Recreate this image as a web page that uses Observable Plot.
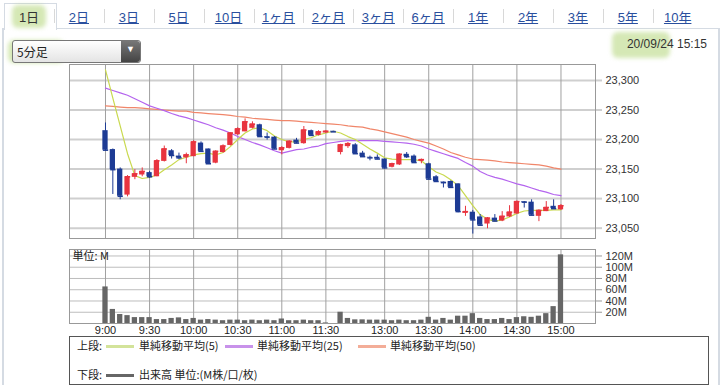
<!DOCTYPE html>
<html><head><meta charset="utf-8">
<script src="https://cdn.jsdelivr.net/npm/d3@7"></script>
<script src="https://cdn.jsdelivr.net/npm/@observablehq/plot@0.6"></script>
<style>
body{margin:0;background:#fff;}
#page{position:relative;width:727px;height:385px;overflow:hidden;font-family:"Liberation Sans","Noto Sans CJK JP",sans-serif;color:#333;}
.abs{position:absolute;}
.tab{position:absolute;top:7px;font-size:13px;color:#2a4f9e;text-decoration:underline;font-family:"Liberation Sans","Noto Sans CJK JP",sans-serif;transform:translateX(-50%);white-space:nowrap;}
.sep{position:absolute;top:9px;width:1px;height:14px;background:#d8d8d8;}
.hl{position:absolute;background:rgba(178,214,120,0.55);border-radius:6px;filter:blur(2px);}
.leg{position:absolute;font-size:11px;white-space:nowrap;font-family:"Noto Sans CJK JP",sans-serif;color:#222;}
.sw{position:absolute;height:3px;}
</style></head>
<body><div id="page">
<div class="abs" style="left:2px;top:28px;width:714px;height:360px;border-left:2px solid #d5dbe3;border-right:2px solid #d5dbe3;"></div>
<div class="abs" style="left:55px;top:28px;width:663px;height:0;border-top:1px solid #d5dbe3;"></div>
<div class="abs" style="left:4px;top:3px;width:51px;height:26px;border:1px solid #d5dbe3;border-bottom:none;background:#fff;"></div>
<div class="hl" style="left:12px;top:5px;width:34px;height:23px;"></div>
<div class="hl" style="left:8px;top:40px;width:56px;height:23px;"></div>
<div class="hl" style="left:612px;top:32px;width:58px;height:26px;"></div>
<div id="tabs"></div>
<div class="abs" style="left:12px;top:40px;width:127px;height:21px;border:1px solid #777;border-radius:3px;background:linear-gradient(#ffffff,#e4e4e4);"></div>
<div class="abs" style="left:121px;top:41px;width:19px;height:21px;border-radius:0 3px 3px 0;background:linear-gradient(#777,#444);"></div>
<div class="abs" style="left:126px;top:44px;font-size:9px;color:#fff;">▼</div>
<div class="abs" style="left:17px;top:43px;font-size:12px;font-family:'Noto Sans CJK JP',sans-serif;color:#222;">5分足</div>
<div class="abs" style="right:20px;top:37px;font-size:12px;color:#333;">20/09/24 15:15</div>
<div id="price" class="abs" style="left:0;top:0;"></div>
<div id="vol" class="abs" style="left:0;top:240px;"></div>
<div class="abs" style="left:69px;top:336px;width:638px;height:47px;border:1px solid #555;"></div>
<div id="legend"></div>
</div>
<script>
// ---- data ----
const tabLabels = ["1日","2日","3日","5日","10日","1ヶ月","2ヶ月","3ヶ月","6ヶ月","1年","2年","3年","5年","10年"];
const slots = d3.range(0, 63); // 5-minute slots, 9:00 = 0, 12:30 = 32, 15:00 = 62
const openP  = [23215,23183,23150,23106,23136,23140,23144,23137,23163,23181,23172,23169,23171,23194,23184,23160,23178,23190,23208,23213,23219,23225,23205,23204,23181,23185,23199,23193,23215,23207,23211,23214,23178,23188,23191,23177,23170,23170,23167,23153,23157,23175,23172,23163,23159,23137,23128,23129,23125,23075,23077,23069,23057,23067,23062,23069,23074,23095,23094,23070,23078,23087,23081];
const highP  = [23228,23184,23152,23139,23149,23152,23146,23166,23189,23183,23177,23177,23198,23196,23184,23181,23191,23211,23220,23235,23230,23226,23211,23205,23188,23198,23202,23222,23216,23215,23215,23214,23192,23195,23193,23180,23172,23174,23167,23160,23176,23178,23174,23167,23160,23139,23128,23130,23125,23087,23080,23073,23068,23073,23078,23088,23096,23095,23098,23081,23095,23098,23090];
const lowP   = [23180,23107,23098,23103,23132,23137,23134,23137,23162,23167,23166,23159,23171,23179,23158,23159,23177,23189,23207,23213,23218,23204,23199,23183,23174,23184,23193,23192,23206,23206,23210,23213,23174,23185,23175,23171,23164,23166,23150,23152,23156,23168,23160,23159,23132,23128,23118,23118,23076,23070,23040,23054,23049,23061,23061,23068,23073,23084,23071,23061,23078,23083,23080];
const closeP = [23182,23149,23104,23137,23142,23146,23137,23164,23184,23173,23169,23174,23196,23180,23159,23180,23189,23211,23218,23230,23226,23205,23204,23184,23186,23197,23194,23216,23207,23213,23214,23213,23191,23193,23176,23171,23169,23167,23152,23159,23175,23171,23161,23166,23133,23129,23127,23119,23078,23078,23064,23055,23067,23062,23070,23077,23095,23094,23072,23080,23085,23083,23088];
const ma5  = [23318,23270,23223,23176,23139,23134,23136,23140,23149,23157,23166,23170,23174,23176,23177,23174,23178,23188,23200,23211,23218,23220,23215,23206,23200,23196,23196,23200,23203,23208,23211,23214,23211,23205,23200,23192,23184,23177,23169,23167,23166,23166,23166,23164,23154,23145,23140,23132,23122,23105,23088,23073,23065,23062,23064,23069,23075,23079,23080,23080,23080,23081,23081];
const ma25 = [23287,23283,23279,23275,23269,23263,23257,23253,23249,23244,23240,23237,23233,23229,23225,23220,23216,23211,23205,23200,23195,23191,23186,23181,23177,23180,23183,23184,23187,23189,23193,23195,23197,23198,23198,23198,23198,23198,23197,23196,23195,23194,23192,23189,23184,23180,23176,23172,23168,23161,23155,23146,23140,23136,23133,23129,23125,23122,23118,23114,23111,23107,23105];
const ma50 = [23257,23256,23255,23254,23254,23253,23252,23251,23250,23249,23248,23248,23246,23245,23244,23243,23242,23241,23239,23238,23236,23235,23234,23233,23232,23232,23231,23230,23229,23228,23227,23226,23225,23223,23222,23221,23218,23216,23213,23210,23207,23204,23200,23197,23194,23189,23184,23178,23174,23170,23167,23166,23165,23164,23162,23161,23160,23159,23158,23157,23155,23152,23150];
const volume = [65,25,16,14,10.5,10.5,10.5,7,7,9,10,7,9,6,7,6,5,6,6,5,6,5,6,5,8,5,5,6,5,5,1,0,20,9,6.5,6.5,6,6,6,5,6,5,5,6,11,6,9,6,13,13,17.5,9,7,7,9,7,10.5,12,11,13,17.5,30,122];
const timeTickSlots = [0,6,12,18,24,30,38,44,50,56,62];
const timeTickLabels = ["9:00","9:30","10:00","10:30","11:00","11:30","13:00","13:30","14:00","14:30","15:00"];
const priceTicks = [23050,23100,23150,23200,23250,23300];
const volTicks = [20,40,60,80,100,120];

// tabs
const tabsEl = document.getElementById("tabs");
tabLabels.forEach((t,i)=>{
  const d=document.createElement("div"); d.className="tab"; d.textContent=t;
  d.style.left=(29+49.9*i)+"px";
  if(i===0){d.style.color="#333";d.style.textDecoration="none";}
  tabsEl.appendChild(d);
  if(i>0){const s=document.createElement("div");s.className="sep";s.style.left=(29+49.9*i-25)+"px";tabsEl.appendChild(s);}
});

const RED="#e8343f", BLUE="#1d3b94";
const candles = slots.map(i=>({i,o:openP[i],h:highP[i],l:lowP[i],c:closeP[i],up:closeP[i]>=openP[i]}));
const X = {domain:[-4.9,66.7], axis:null};
const W = 0.36;

const price = Plot.plot({
  width:727, height:245, marginLeft:69, marginRight:132, marginTop:64, marginBottom:7,
  x:X, y:{domain:[23032.5,23327], axis:null},
  style:{fontFamily:"Liberation Sans, sans-serif", fontSize:"11px", color:"#333", background:"transparent", overflow:"visible"},
  marks:[
    Plot.ruleY(priceTicks,{stroke:"#cfcfcf",strokeWidth:2}),
    Plot.ruleX(timeTickSlots,{stroke:"#a0a0a0",strokeWidth:1}),
    Plot.axisY({anchor:"right",ticks:priceTicks,tickFormat:d3.format(","),tickSize:6,tickPadding:4,stroke:"#cfcfcf",strokeWidth:2,fill:"#333",fontSize:11}),
    Plot.frame({stroke:"#999"}),
    Plot.line(slots,{x:d=>d,y:d=>ma50[d],stroke:"#f0866a",strokeWidth:1.2}),
    Plot.line(slots,{x:d=>d,y:d=>ma25[d],stroke:"#b464ee",strokeWidth:1.2}),
    Plot.line(slots,{x:d=>d,y:d=>ma5[d],stroke:"#c9d94f",strokeWidth:1.2}),
    Plot.ruleX(candles,{x:"i",y1:"l",y2:"h",stroke:d=>d.up?RED:BLUE,strokeWidth:1}),
    Plot.rect(candles,{x1:d=>d.i-W,x2:d=>d.i+W,y1:d=>Math.min(d.o,d.c),y2:d=>Math.max(d.o,d.c),fill:d=>d.up?RED:BLUE}),
    Plot.link(candles,{x1:d=>d.i-W,x2:d=>d.i+W,y1:"c",y2:"c",stroke:d=>d.up?RED:BLUE,strokeWidth:1.5})
  ]
});
document.getElementById("price").appendChild(price);

const vol = Plot.plot({
  width:727, height:100, marginLeft:69, marginRight:132, marginTop:9, marginBottom:17,
  x:X, y:{domain:[0,131.5], axis:null},
  style:{fontFamily:"Liberation Sans, sans-serif", fontSize:"11px", color:"#333", background:"transparent", overflow:"visible"},
  marks:[
    Plot.ruleY(volTicks,{stroke:"#bdbdbd",strokeWidth:1}),
    Plot.ruleX(timeTickSlots,{stroke:"#a0a0a0",strokeWidth:1}),
    Plot.axisY({anchor:"right",ticks:volTicks,tickFormat:d=>d+"M",tickSize:6,tickPadding:4,stroke:"#999",fill:"#333",fontSize:11}),
    Plot.axisX({anchor:"bottom",ticks:timeTickSlots,tickFormat:(d,k)=>timeTickLabels[timeTickSlots.indexOf(d)],tickSize:0,tickPadding:3,fill:"#222",fontSize:11}),
    Plot.rect(slots,{x1:d=>d-W,x2:d=>d+W,y1:0,y2:d=>volume[d],fill:"#666"}),
    Plot.frame({stroke:"#999"}),
    Plot.text(["単位: M"],{frameAnchor:"top-left",dx:3,dy:3,fill:"#222",fontSize:11,fontFamily:"Noto Sans CJK JP, sans-serif"})
  ]
});
document.getElementById("vol").appendChild(vol);

// legend
const legendRows = [
  {top:337,label:"上段:",items:[{c:"#d3e39a",t:"単純移動平均(5)"},{c:"#c892ea",t:"単純移動平均(25)"},{c:"#f3ad98",t:"単純移動平均(50)"}]},
  {top:366,label:"下段:",items:[{c:"#666",t:"出来高 単位:(M株/口/枚)"}]}
];
const lg=document.getElementById("legend");
const itemX=[[106,139],[225,257],[358,390]];
legendRows.forEach(r=>{
  const l=document.createElement("div");l.className="leg";l.style.left="77px";l.style.top=r.top+"px";l.textContent=r.label;lg.appendChild(l);
  r.items.forEach((it,k)=>{
    const s=document.createElement("div");s.className="sw";s.style.left=itemX[k][0]+"px";s.style.width="28px";s.style.top=(r.top+8)+"px";s.style.background=it.c;lg.appendChild(s);
    const t=document.createElement("div");t.className="leg";t.style.left=itemX[k][1]+"px";t.style.top=r.top+"px";t.textContent=it.t;lg.appendChild(t);
  });
});
</script>
</body></html>
